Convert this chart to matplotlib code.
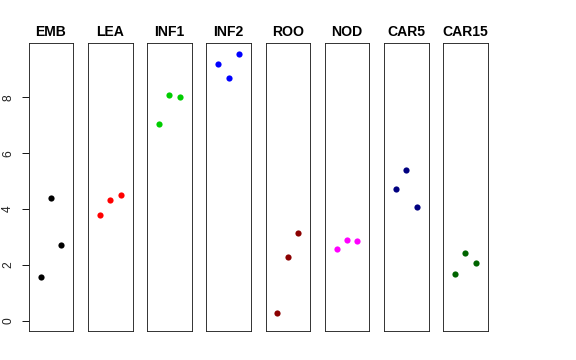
import matplotlib
matplotlib.use("Agg")
import matplotlib.pyplot as plt

groups = ["EMB", "LEA", "INF1", "INF2", "ROO", "NOD", "CAR5", "CAR15"]
colors = ["#000000", "#FF0000", "#00CD00", "#0000FF", "#8B0000", "#FF00FF", "#000080", "#006400"]
x_pos = [1, 2, 3]
values = {
    "EMB":   [1.58, 4.41, 2.70],
    "LEA":   [3.77, 4.33, 4.49],
    "INF1":  [7.06, 8.07, 8.02],
    "INF2":  [9.19, 8.69, 9.56],
    "ROO":   [0.28, 2.28, 3.14],
    "NOD":   [2.56, 2.88, 2.85],
    "CAR5":  [4.72, 5.39, 4.08],
    "CAR15": [1.66, 2.41, 2.07],
}
yticks = [0, 2, 4, 6, 8]

plt.rcParams['font.family'] = ['Liberation Sans', 'DejaVu Sans']
W, H = 576, 360
fig = plt.figure(figsize=(W / 72, H / 72), dpi=72)

left0 = 28.7
step = 59.2
width = 44.6
top_px = 42.7
bot_px = 331.0

for i, (g, c) in enumerate(zip(groups, colors)):
    ax = fig.add_axes([(left0 + i * step) / W, (H - bot_px) / H,
                       width / W, (bot_px - top_px) / H])
    ax.plot(x_pos, values[g], 'o', color=c, markersize=6.2, markeredgewidth=0)
    ax.set_xlim(-0.16, 4.16)
    ax.set_ylim(-0.37, 9.96)
    ax.set_xticks([])
    for s in ax.spines.values():
        s.set_linewidth(0.9)
        s.set_color('#222222')
    ax.set_title(g, fontsize=14, fontweight='bold', pad=7)
    if i == 0:
        ax.set_yticks(yticks)
        ax.set_yticklabels([str(t) for t in yticks], rotation=90, va='center', fontsize=12, color='#222222')
        ax.tick_params(axis='y', length=7, width=0.9, pad=7.5)
    else:
        ax.set_yticks([])

fig.savefig("out.png", dpi=72)
